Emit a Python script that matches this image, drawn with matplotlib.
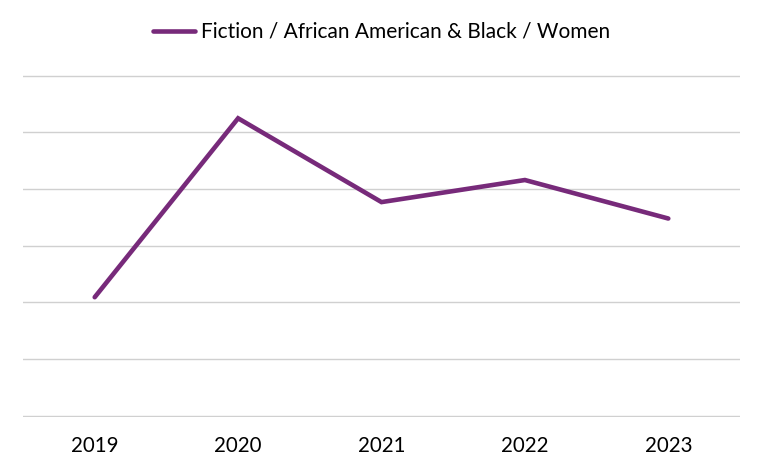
import matplotlib
matplotlib.use("Agg")
import matplotlib.pyplot as plt

years = ["2019", "2020", "2021", "2022", "2023"]
values = [2.09, 5.25, 3.77, 4.16, 3.48]
series_name = "Fiction / African American & Black / Women"

plt.rcParams['font.family'] = ['Lato', 'DejaVu Sans']

fig = plt.figure(figsize=(7.63, 4.73), dpi=100)
ax = fig.add_axes([23/763, 1-416.7/473, (740-23)/763, (416.7-74.7)/473])

x = list(range(len(years)))
line, = ax.plot(x, values, color="#772A7A", lw=3.3, solid_capstyle="round",
                solid_joinstyle="miter", label=series_name, zorder=3)

ax.set_xlim(-0.5, len(years) - 0.5)
ax.set_ylim(-0.02, 6.02)
ax.set_yticks(range(0, 7))
ax.yaxis.grid(True, color="#D0D0D0", lw=1.0)
ax.set_axisbelow(True)
ax.tick_params(axis="y", left=False, labelleft=False)
ax.tick_params(axis="x", length=0, pad=14, labelsize=14.8, colors="#000000")
ax.set_xticks(x)
ax.set_xticklabels(years)
for s in ax.spines.values():
    s.set_visible(False)

fig.legend(handles=[line], loc="center", bbox_to_anchor=(0.5, 1-32/473),
           frameon=False, fontsize=15, handlelength=2.0, handletextpad=0.3)

fig.savefig("out.png", dpi=100, facecolor="white")
